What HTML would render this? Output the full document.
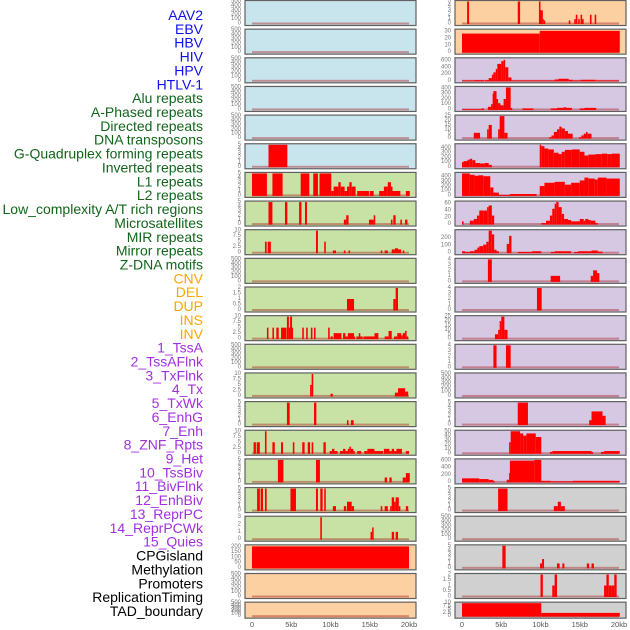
<!DOCTYPE html>
<html><head><meta charset="utf-8">
<style>
html,body{margin:0;padding:0;background:#fff;}
svg{display:block;}
text{font-family:"Liberation Sans",sans-serif;}
</style></head>
<body>
<svg id="chart" width="630" height="630" viewBox="0 0 630 630" xmlns="http://www.w3.org/2000/svg"></svg>
<script>
const labelNames = ["AAV2","EBV","HBV","HIV","HPV","HTLV-1","Alu repeats","A-Phased repeats","Directed repeats","DNA transposons","G-Quadruplex forming repeats","Inverted repeats","L1 repeats","L2 repeats","Low_complexity A/T rich regions","Microsatellites","MIR repeats","Mirror repeats","Z-DNA motifs","CNV","DEL","DUP","INS","INV","1_TssA","2_TssAFlnk","3_TxFlnk","4_Tx","5_TxWk","6_EnhG","7_Enh","8_ZNF_Rpts","9_Het","10_TssBiv","11_BivFlnk","12_EnhBiv","13_ReprPC","14_ReprPCWk","15_Quies","CPGisland","Methylation","Promoters","ReplicationTiming","TAD_boundary"];
const labelGroups = ["v","v","v","v","v","v","r","r","r","r","r","r","r","r","r","r","r","r","r","s","s","s","s","s","c","c","c","c","c","c","c","c","c","c","c","c","c","c","c","o","o","o","o","o"];
const xTickValues = [0,5,10,15,20];
const xTickLabels = ["0","5kb","10kb","15kb","20kb"];
const T500=[0,100,200,300,400,500], T5=[0,1,2,3,4,5], T10=[0,2.5,5,7.5,10], T2=[0,0.5,1,1.5,2], T4=[0,1,2,3,4];
const panelTicks = [T500,T500,T500,T500,T500,T5,T5,T5,T10,T500,T2,T10,T500,T10,T5,T10,T5,T5,[0,1,2,3],[0,50,100,150,200],T500,T500,
 T5,[0,10,20,30],[0,200,400,600],[0,100,200,300,400],[0,5,10,15,20,25],[0,100,200,300,400],[0,100,200,300,400],[0,20,40,60],[0,100,200],T4,T4,[0,5,10,15,20,25],T4,T500,T5,[0,10,20,30,40,50],[0,200,400,600],T5,T500,T5,T2,T10];
const panelYmax = [500,500,500,500,500,5,5,5,10,500,2,10,500,10,5,10,5,5,3,210,500,500,
 5,32,650,420,25,470,470,65,300,4,4,25,4,500,5,50,620,5,500,5,2,10];
const panelSegs = [
 [],[],[],[],[],
 [[2.1,4.5,5]],
 [[0,1.9,5],[2.6,3.9,5],[6.2,7.3,5],[7.8,8.4,5],[8.6,10.1,5],[10.1,10.4,1],[10.4,11,2],[11,11.3,3],[11.3,11.8,2],[11.8,12.1,1],[12.1,12.4,2],[12.4,12.7,3],[12.7,13.2,2],[13.4,14,1],[14,14.9,1],[15,15.5,1],[16.2,16.8,1],[16.8,17.3,2],[17.3,17.7,3],[17.7,17.9,2],[17.9,18.9,1],[19.6,20.1,1]],
 [[2.1,2.6,5],[4.2,4.5,5],[6,6.3,5],[6.75,7,5],[11.7,12,1],[12,12.3,2],[14.9,15.5,1],[15.5,15.7,2],[17.7,17.9,1],[18,18.3,2],[18.9,19.1,1],[19.5,19.8,1]],
 [[1.65,1.87,5],[2,2.4,5],[8.15,8.4,10],[9.2,9.4,5],[10.3,10.7,1],[11.7,11.9,1],[12.3,12.5,1],[16.4,16.6,1],[16.9,17.3,1],[17.8,18.2,1.5],[18.2,18.6,2],[18.6,19,1.5],[19.2,19.4,1]],
 [],
 [[12.1,13,1],[18,18.3,1],[18.3,18.6,2]],
 [[1.9,2.1,5],[2.6,2.8,5],[3.1,3.4,5],[3.7,4.4,5],[4.45,4.7,10],[4.7,4.85,5],[4.85,5.1,10],[5.1,5.2,5],[6.4,6.6,5],[6.9,7.1,5],[7.5,7.7,5],[7.9,8.1,5],[9.7,9.9,5],[10,10.3,1],[10.4,11.4,2.5],[11.6,11.9,2.5],[11.9,12.2,1],[12.2,13,2.5],[13,13.1,1],[13.3,13.6,1],[13.6,13.8,2.5],[13.8,14.1,1],[14.2,14.6,1],[14.6,15.6,1],[15.6,16.1,2.5],[16.9,17.4,1],[17.4,17.8,3.5],[18.1,18.5,1],[18.5,19,2.5],[19,19.2,1.5],[19.2,19.5,2.5],[19.5,19.7,3.5],[19.7,19.9,1]],
 [],
 [[7.4,7.6,5],[7.6,7.8,10],[10.0,10.3,1],[18.2,18.6,1.5],[18.6,19.5,3.5],[19.5,19.9,2]],
 [[4.45,4.8,5],[7.9,8.2,5],[12.1,12.3,1],[12.6,12.95,1]],
 [[0.2,0.5,5],[0.6,1,5],[1.65,1.85,10],[2.6,2.9,5],[3.7,3.95,5],[5.2,5.4,5],[6.4,6.7,5],[7.1,7.4,5],[7.6,7.8,5],[9.1,9.4,5],[9.9,10.2,1],[10.2,10.5,2],[10.5,10.9,1],[11.2,11.6,1],[11.6,11.9,2],[11.9,12.2,1],[12.2,12.4,2],[12.4,12.6,3],[12.6,12.9,2],[12.9,13.1,1],[13.4,13.9,1],[14.3,14.7,1],[14.7,14.9,2],[14.9,15.6,2],[15.6,16.7,1],[16.8,17.5,2],[17.5,17.8,1],[17.8,18.1,2],[18.1,18.4,1],[18.4,19.1,2],[19.6,20,1]],
 [[3.3,4,5],[8.15,8.65,5],[16.9,17.2,1],[17.5,17.8,1],[19.2,19.6,1],[19.6,20.1,2]],
 [[0.65,1,5],[1.1,1.4,5],[1.65,1.87,5],[4.9,5.6,5],[8.15,8.4,5],[8.7,9,5],[9.2,9.4,5],[10.3,10.7,1],[11.7,12,1],[12.1,12.7,2],[12.7,13,1],[16.4,16.6,1],[16.9,17.3,1],[17.6,17.8,1],[17.8,18.1,3],[18.1,18.3,2],[18.3,18.7,3],[18.7,18.9,1],[19.6,19.9,1]],
 [[8.7,8.9,3],[15.1,15.3,1],[15.3,15.5,1.6],[17.8,18.1,1],[18.3,18.6,1]],
 [[0,20,205]],
 [],[],
 [[0.65,0.9,5],[7.1,7.4,5],[9.8,10,5],[10,10.3,3],[10.3,10.4,1],[10.45,10.6,0.7],[13.6,13.8,0.7],[14.3,14.5,1],[14.5,14.7,2],[14.8,15,1],[15.1,15.3,2],[15.3,15.5,1],[16.3,16.5,2],[16.9,17.1,2]],
 [[0,9.9,27],[9.9,20.1,31]],
 [[0,1.5,10],[1.5,2.8,20],[2.9,3.4,20],[3.4,3.8,80],[3.8,4,180],[4,4.3,250],[4.3,4.5,350],[4.5,5,500],[5,5.3,580],[5.3,5.5,620],[5.5,5.9,400],[5.9,6.3,100],[6.3,11.8,10],[11.8,12.3,40],[12.3,13.6,60],[13.6,14.1,30],[14.1,15.1,10],[15.1,17,30],[17,20,10]],
 [[0,2.5,5],[2.5,2.8,20],[3.3,3.7,50],[3.7,3.9,100],[3.9,4,300],[4,4.4,350],[4.4,4.6,200],[4.6,4.9,120],[4.9,5.3,80],[5.3,5.6,200],[5.6,6.2,420],[6.2,6.4,30],[7.7,9.1,20],[11.3,12.1,20],[12.1,12.9,30],[12.9,13.3,40],[13.3,14,30],[15,15.6,20],[15.6,17.1,30]],
 [[1.5,2.3,6],[3.2,3.4,10],[3.4,3.8,15],[4.6,4.8,10],[4.8,5.4,25],[5.4,5.8,6],[11.1,11.4,1],[11.4,11.7,3],[11.7,12.1,7],[12.1,12.4,10],[12.4,12.7,13],[12.7,13.1,11],[13.1,13.5,8],[13.5,14.1,5],[14.9,15.2,1],[15.2,15.5,3],[15.5,15.8,5],[15.8,16,7],[16,16.5,5]],
 [[0,0.2,100],[0.2,0.7,120],[0.7,1,150],[1,1.3,170],[1.3,1.7,140],[1.7,2.3,80],[2.3,2.9,70],[2.9,3.4,80],[3.4,3.8,40],[9.9,10.1,470],[10.1,10.5,440],[10.5,11,390],[11,11.7,370],[11.7,12.3,300],[12.3,12.7,270],[12.7,13.1,320],[13.1,14,360],[14,15,370],[15,15.6,320],[15.6,16.1,240],[16.1,17,260],[17,17.8,270],[17.8,18.5,280],[18.5,19.1,270],[19.1,20.1,280]],
 [[0,1,470],[1,1.6,440],[1.6,2.1,420],[2.1,2.7,430],[2.7,3.6,410],[3.6,4,170],[4,4.7,60],[4.7,6.1,10],[6.1,9.5,30],[9.9,10.5,200],[10.5,11.8,270],[11.8,13.1,290],[13.1,13.9,230],[13.9,15,270],[15,15.6,320],[15.6,16.1,380],[16.1,16.9,360],[16.9,17.3,340],[17.3,18.4,380],[18.4,20.1,360]],
 [[0,0.2,8],[1,1.5,10],[1.5,1.9,15],[1.9,2.2,25],[2.2,2.7,40],[2.7,3.2,40],[3.2,3.4,50],[3.4,3.8,55],[3.8,4.1,25],[10.1,10.7,3],[10.7,11.2,10],[11.2,11.5,25],[11.5,11.8,45],[11.8,12,60],[12,12.3,65],[12.3,12.7,50],[12.7,13,30],[13,13.5,15],[13.5,13.9,12],[13.9,15,8],[15,15.5,15],[15.5,15.7,10],[15.7,16.1,15],[16.1,16.4,12],[16.4,17,10],[17,17.3,3]],
 [[0,0.4,20],[0.4,1,10],[1,1.6,20],[1.6,1.95,40],[1.95,2.2,70],[2.2,2.7,90],[2.7,3.1,110],[3.1,3.4,150],[3.4,3.8,300],[3.8,4.1,250],[4.1,4.4,40],[4.4,4.7,20],[5.7,6,120],[6,6.3,230],[7.1,8.9,10],[8.9,10.1,20],[11.3,11.8,10],[11.8,13.9,20],[14.3,14.8,10],[14.8,16.5,20],[16.5,17.3,30],[17.3,17.9,15]],
 [[3.3,3.8,4],[11.3,12.5,1],[16.4,16.7,1],[16.7,17.2,2],[17.2,17.5,1.5]],
 [[9.55,10.15,4]],
 [[4.2,4.6,5],[4.6,4.8,10],[4.8,5,20],[5,5.4,25],[5.4,5.8,10]],
 [[4,4.4,4],[5.6,6.2,4]],
 [],
 [[7.1,8.4,5],[16.2,16.5,1],[16.5,17.9,3],[17.9,18.3,2]],
 [[6,6.2,25],[6.2,7.4,50],[7.4,7.8,45],[7.8,8.2,40],[8.2,9.4,45],[9.4,10.1,37],[11.2,11.5,3],[11.5,16.5,5],[16.5,16.7,3],[17.7,18.1,3],[18.1,20.1,5]],
 [[0,2.2,100],[2.2,3.4,80],[3.4,4,55],[4,4.2,20],[5.7,6,60],[6,6.1,250],[6.1,9.2,600],[9.2,10.1,620],[10.1,11.3,30],[11.3,14.1,15],[14.1,20.1,30]],
 [[4.6,5.8,5],[11.7,12.2,1],[12.2,12.6,2],[12.6,13.1,1]],
 [],
 [[5.14,5.56,5],[9.94,10.2,1],[10.2,10.45,2],[12.1,12.44,1],[12.78,13.04,1],[15.9,16.2,1],[16.5,16.8,1]],
 [[10,10.3,2],[11.5,11.8,1],[11.8,12.1,2],[18.1,18.4,1],[18.4,18.7,2],[18.7,19,1],[19,19.4,1],[19.4,19.7,2]],
 [[0,10.1,10],[10.1,20.1,2.5]]
];

const svg = document.getElementById('chart');
const NS = 'http://www.w3.org/2000/svg';
function mk(tag, attrs, parent){ const e=document.createElementNS(NS,tag); for(const k in attrs) e.setAttribute(k,attrs[k]); (parent||svg).appendChild(e); return e; }
const groupColor = {v:'#1010ee', r:'#11661a', s:'#ffa500', c:'#a030e0', o:'#000000'};
const labelSlug = s => s.toLowerCase().replace(/[^a-z0-9]+/g,'-').replace(/^-|-$/g,'');

labelNames.forEach((nm,k)=>{
  const t = mk('text',{x:203,y:15+k*13.86,'text-anchor':'end','dominant-baseline':'central','font-size':'14',fill:groupColor[labelGroups[k]]});
  t.textContent = nm;
  
  
});

const bgColor = {v:'#c8e4ec', r:'#c8e1a5', s:'#fdd0a1', c:'#d6c7e3', o:'#d0d0d0'};
const cols = [{left:245,right:416,x0:252,x20:409},{left:455,right:626,x0:462,x20:619}];

for(let p=0;p<44;p++){
  const col = p<22?0:1, row = p%22;
  const C = cols[col];
  const top = row*28.65 + 0.5;
  const h = row===21 ? 16 : 25;
  const bottom = top+h;
  const yBase = bottom-2, yTopPx = top+1;
  const ymax = panelYmax[p];
  const ys = v => yBase - (v/ymax)*(yBase-yTopPx);
  const xs = kb => C.x0 + kb/20*(C.x20-C.x0);
  const g = mk('g',{});
  
  
  const bg = mk('rect',{x:C.left,y:top,width:C.right-C.left,height:h,fill:bgColor[labelGroups[p]]},g);
  
  
  const bl = mk('rect',{x:xs(0),y:yBase-1,width:xs(20)-xs(0),height:2,fill:'rgba(170,40,40,0.45)'},g);
  
  
  panelSegs[p].forEach(s=>{
    const y = Math.max(ys(s[2]), top+0.5);
    const b = mk('rect',{x:xs(s[0]),y:y,width:Math.max(xs(s[1])-xs(s[0]),1),height:yBase+0.5-y,fill:'#ff0000'},g);
    
    
  });
  const br = mk('rect',{x:C.left,y:top,width:C.right-C.left,height:h,fill:'none',stroke:'#606060','stroke-width':1.2},g);
  
  
  panelTicks[p].forEach(tv=>{
    const tt = mk('text',{x:C.left-4,y:ys(tv),'text-anchor':'end','dominant-baseline':'central','font-size':'6',fill:'#777'},g);
    tt.textContent = String(tv);
    
    
  });
}

cols.forEach((C,ci)=>{
  xTickValues.forEach((v,i)=>{
    const t = mk('text',{x:C.x0 + v/20*(C.x20-C.x0),y:627,'text-anchor':'middle','font-size':'7.5',fill:'#555'});
    t.textContent = xTickLabels[i];
    
    
  });
});
</script>
</body></html>
